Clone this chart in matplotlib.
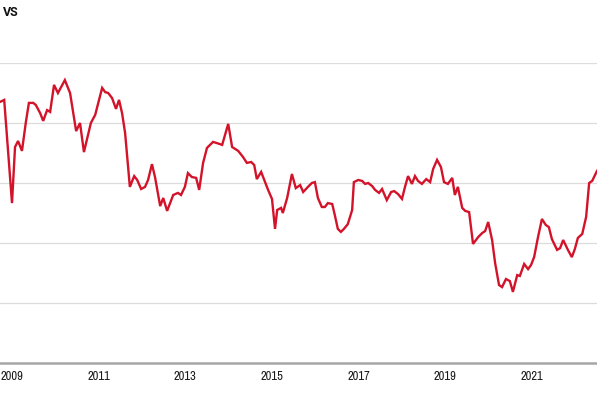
import matplotlib.pyplot as plt
from matplotlib import font_manager

# vertices (decimal year, index value)
years = [2008.72, 2008.82, 2009.00, 2009.07, 2009.14, 2009.23, 2009.32, 2009.39, 2009.49, 2009.55,
         2009.65, 2009.72, 2009.81, 2009.88, 2009.97, 2010.06, 2010.22, 2010.34, 2010.48, 2010.57,
         2010.66, 2010.82, 2010.92, 2011.08, 2011.15, 2011.22, 2011.31, 2011.40, 2011.47, 2011.54,
         2011.61, 2011.68, 2011.72, 2011.82, 2011.89, 2011.98, 2012.07, 2012.14, 2012.23, 2012.30,
         2012.42, 2012.49, 2012.58, 2012.65, 2012.72, 2012.83, 2012.90, 2012.99, 2013.06, 2013.15,
         2013.25, 2013.32, 2013.41, 2013.50, 2013.64, 2013.73, 2013.85, 2013.99, 2014.08, 2014.22,
         2014.33, 2014.42, 2014.52, 2014.59, 2014.65, 2014.75, 2014.84, 2014.91, 2015.00, 2015.07,
         2015.12, 2015.21, 2015.25, 2015.35, 2015.46, 2015.55, 2015.65, 2015.72, 2015.83, 2015.92,
         2015.99, 2016.06, 2016.15, 2016.22, 2016.29, 2016.39, 2016.45, 2016.52, 2016.59, 2016.66,
         2016.75, 2016.85, 2016.89, 2016.99, 2017.08, 2017.15, 2017.22, 2017.31, 2017.38, 2017.47,
         2017.54, 2017.65, 2017.75, 2017.82, 2017.91, 2018.00, 2018.07, 2018.14, 2018.23, 2018.30,
         2018.37, 2018.46, 2018.56, 2018.65, 2018.72, 2018.81, 2018.90, 2018.97, 2019.06, 2019.16,
         2019.22, 2019.29, 2019.39, 2019.46, 2019.55, 2019.64, 2019.76, 2019.85, 2019.92, 2019.99,
         2020.08, 2020.15, 2020.24, 2020.31, 2020.40, 2020.49, 2020.56, 2020.66, 2020.72, 2020.82,
         2020.91, 2020.98, 2021.05, 2021.14, 2021.23, 2021.32, 2021.39, 2021.46, 2021.58, 2021.65,
         2021.72, 2021.83, 2021.92, 2021.99, 2022.06, 2022.16, 2022.25, 2022.32, 2022.39, 2022.50,
         2022.69]
values = [87.0, 87.7, 53.3, 72.0, 74.0, 70.7, 80.3, 86.7, 86.7, 86.0,
          83.3, 80.7, 84.3, 83.7, 92.7, 90.0, 94.3, 90.0, 77.3, 80.0,
          70.3, 80.0, 82.7, 91.7, 90.3, 90.0, 88.3, 84.7, 87.7, 83.3,
          76.7, 65.3, 58.7, 62.3, 61.0, 58.0, 58.7, 61.0, 66.3, 62.0,
          52.3, 55.0, 50.7, 53.3, 56.0, 56.7, 56.0, 58.7, 63.3, 62.0,
          61.7, 57.7, 66.7, 71.7, 73.7, 73.3, 72.7, 79.7, 72.0, 70.7,
          68.7, 66.7, 67.0, 66.0, 61.3, 63.7, 60.3, 57.7, 54.7, 44.7,
          51.0, 51.7, 50.0, 55.0, 63.0, 58.3, 59.3, 57.0, 58.7, 60.0,
          60.3, 55.0, 52.0, 52.0, 53.3, 53.0, 49.3, 44.7, 43.7, 44.7,
          46.3, 51.0, 60.3, 61.0, 60.7, 59.7, 60.0, 59.0, 57.7, 56.7,
          58.0, 54.3, 57.0, 57.3, 56.3, 54.7, 58.7, 62.3, 59.7, 62.3,
          60.7, 59.7, 61.3, 60.3, 64.7, 67.7, 65.3, 60.3, 59.7, 61.7,
          56.0, 58.7, 51.7, 50.7, 50.3, 39.7, 42.0, 43.3, 44.0, 47.0,
          41.0, 33.3, 26.0, 25.3, 28.0, 27.3, 23.7, 29.3, 29.0, 33.0,
          31.3, 32.7, 35.3, 42.0, 48.0, 46.0, 45.3, 41.3, 37.7, 38.3,
          41.0, 37.7, 35.3, 38.0, 41.7, 43.0, 48.7, 60.0, 60.7, 64.0,
          67.7]

tick_years = [2009, 2011, 2013, 2015, 2017, 2019, 2021]
title = "VS"

# condensed face if one is installed
names = sorted({f.name for f in font_manager.fontManager.ttflist})
cond = [n for n in names if 'Condensed' in n or 'Narrow' in n]
plt.rcParams['font.family'] = (cond[:1] or ['Roboto']) + ['DejaVu Sans']

fig = plt.figure(figsize=(5.97, 3.98), dpi=100)
ax = fig.add_axes([0, 35 / 398, 1, 300 / 398])

ax.plot(years, values, color='#d3132a', lw=1.7, solid_joinstyle='miter', zorder=3)

ax.set_xlim(2008.723, 2022.501)
ax.set_ylim(0, 100)
ax.set_yticks([20, 40, 60, 80, 100])
ax.yaxis.grid(True, color='#dcdcdc', lw=0.9)
ax.set_yticklabels([])
ax.tick_params(axis='y', length=0)
ax.axhline(0, color='#a6a6a6', lw=1.8, zorder=2, clip_on=False)

ax.set_xticks(tick_years)
ax.set_xticklabels([str(y) for y in tick_years], fontsize=9, color='#1a1a1a',
                   fontweight='bold')
ax.tick_params(axis='x', length=0, pad=6)

for s in ax.spines.values():
    s.set_visible(False)

fig.text(3 / 597, 1 - 12 / 398, title, fontsize=9, fontweight='bold',
         family=['Roboto', 'DejaVu Sans'], color='#111111', va='center', ha='left')

fig.savefig('out.png', dpi=100)
